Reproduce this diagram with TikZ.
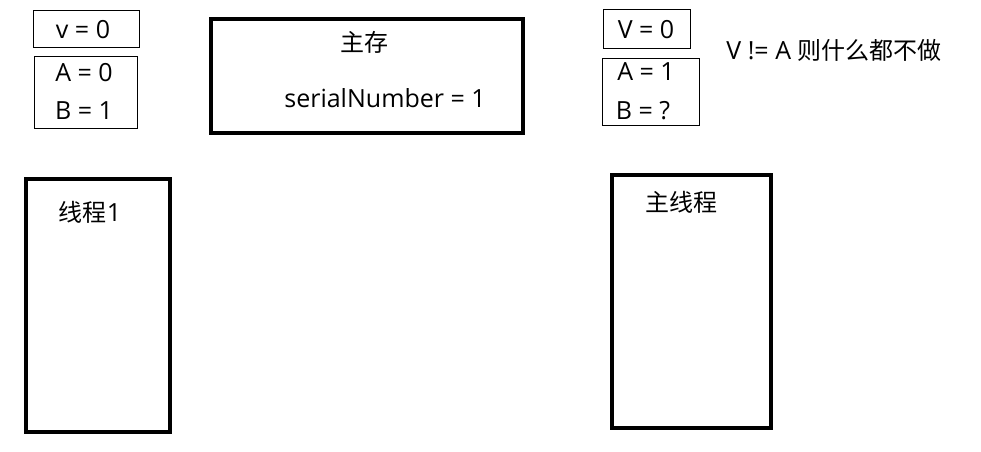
\documentclass[tikz,border=0pt]{standalone}
\usepackage{fontspec}
\setmainfont{Open Sans}
\newfontfamily\cjk{Noto Sans CJK SC}
\begin{document}
\begin{tikzpicture}[x=1pt,y=-1pt,
  thinbox/.style={draw=black,line width=1pt,fill=white},
  thickbox/.style={draw=black,line width=4pt},
  lbl/.style={inner sep=0pt,font=\fontsize{25}{28}\selectfont},
  clbl/.style={inner sep=0pt,font=\cjk\fontsize{24}{27}\selectfont}]
\useasboundingbox (0,0) rectangle (981,451);
% left variables
\node[thinbox,minimum width=106pt,minimum height=37pt] (vbox) at (86,28.5) {};
\node[lbl] (vtxt) at (83,30) {v = 0};
\node[thinbox,minimum width=103pt,minimum height=72pt] (abbox) at (85.5,92) {};
\node[lbl] (atxt) at (84,73) {A = 0};
\node[lbl] (btxt) at (84,111) {B = 1};
% main memory
\node[thickbox,minimum width=312pt,minimum height=114pt] (mem) at (367,76) {};
\node[clbl] (memtxt) at (364,42) {主存};
\node[lbl] (sn) at (385,98) {serialNumber = 1};
% thread 1
\node[thickbox,minimum width=144pt,minimum height=253pt] (t1) at (98,305.5) {};
\node[clbl] (t1txt) at (90,212) {线程{\rmfamily\fontsize{25}{28}\selectfont 1}};
% right variables
\node[thinbox,minimum width=87pt,minimum height=39pt] (Vbox) at (646.5,28.5) {};
\node[lbl] (Vtxt) at (646,30) {V = 0};
\node[thinbox,minimum width=97pt,minimum height=67pt] (ABbox) at (650.5,91.5) {};
\node[lbl] (Atxt) at (646,72) {A = 1};
\node[lbl] (Btxt) at (643,111) {B = ?};
\node[lbl] (note) at (834,50) {V != A {\cjk\fontsize{24}{27}\selectfont 则什么都不做}};
% main thread
\node[thickbox,minimum width=159pt,minimum height=253pt] (mt) at (691.5,301.5) {};
\node[clbl] (mttxt) at (681,202) {主线程};
\end{tikzpicture}
\end{document}
